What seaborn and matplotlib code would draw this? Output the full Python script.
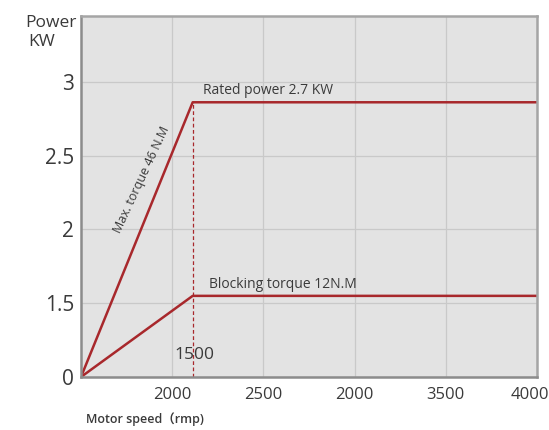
import pandas as pd
import matplotlib.pyplot as plt
import matplotlib.transforms as mtransforms
import seaborn as sns

# dados (posições no eixo em unidades de grade)
velocidade = [0, 1.225, 5]
potencia_nominal = [0, 3.725, 3.725]
torque_bloqueio = [0, 1.10, 1.10]
rotulos_x = ['2000', '2500', '2000', '3500', '4000']
rotulos_y = ['0', '1.5', '2', '2.5', '3']

sns.set_theme(style='white')
plt.rcParams['font.family'] = ['Open Sans', 'Noto Sans CJK SC', 'DejaVu Sans']

cor = '#a8282c'
texto = '#3a3a3a'

df = pd.DataFrame({
    'velocidade': velocidade * 2,
    'potencia': potencia_nominal + torque_bloqueio,
    'curva': ['nominal'] * 3 + ['bloqueio'] * 3,
})

fig = plt.figure(figsize=(5.49, 4.30), dpi=100)
ax = fig.add_axes([0.1475, 0.1233, 0.8305, 0.8395])
ax.set_facecolor('#e3e3e3')

sns.lineplot(data=df, x='velocidade', y='potencia', units='curva', estimator=None,
             color=cor, linewidth=1.8, ax=ax, legend=False)
ax.plot([velocidade[1], velocidade[1]], [0, potencia_nominal[1]], color=cor,
        linewidth=0.9, linestyle=(0, (3, 2)))

ax.set_xlim(0, 5)
ax.set_ylim(0, 4.895)
ax.set_xticks(range(1, 6))
ax.set_xticklabels(rotulos_x, fontsize=12, color=texto)
ax.set_yticks(range(0, 5))
ax.set_yticklabels(rotulos_y, fontsize=15, color=texto)
ax.tick_params(length=0)
ax.tick_params(axis='x', pad=7)
ax.tick_params(axis='y', pad=5)
ax.grid(True, color='#c9c9c9', linewidth=0.9)
ax.set_xlabel('')
ax.set_ylabel('')
for lado in ['left', 'bottom']:
    ax.spines[lado].set_color('#8c8c8c')
    ax.spines[lado].set_linewidth(1.8)
for lado in ['top', 'right']:
    ax.spines[lado].set_color('#a5a5a5')
    ax.spines[lado].set_linewidth(1.8)

# o último rótulo encosta na borda direita
ultimo = ax.get_xticklabels()[-1]
ultimo.set_transform(ultimo.get_transform() +
                     mtransforms.ScaledTranslation(-7 / 100, 0, fig.dpi_scale_trans))

ax.text(1.338, 3.78, 'Rated power 2.7 KW', fontsize=10, color=texto, va='bottom')
ax.text(1.40, 1.26, 'Blocking torque 12N.M', fontsize=10, color=texto, va='center')
ax.text(1.24, 0.30, '1500', fontsize=12.5, color=texto, ha='center', va='center')
ax.text(0.66, 2.68, 'Max. torque 46 N.M', fontsize=9, color=texto, ha='center',
        va='center', rotation=65)

fig.text(25 / 549, 1 - 23 / 430, 'Power', fontsize=12.5, color=texto, va='center')
fig.text(28 / 549, 1 - 42 / 430, 'KW', fontsize=12.5, color=texto, va='center')
fig.text(86 / 549, 1 - 419 / 430, 'Motor speed（rmp)', fontsize=9, color=texto,
         va='center', fontweight='semibold')

plt.savefig('out.png', dpi=100)
